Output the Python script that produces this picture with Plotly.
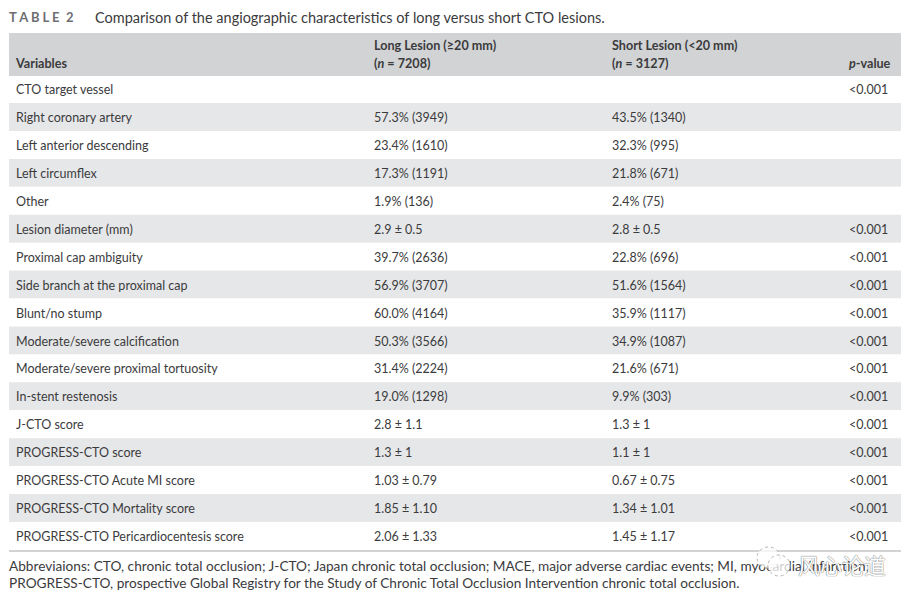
import plotly.graph_objects as go

OFF = 8  # the page body keeps its default 8px margin
W, H = 914 - OFF, 604 - OFF
variables = ["CTO target vessel", "Right coronary artery", "Left anterior descending", "Left circumflex", "Other",
             "Lesion diameter (mm)", "Proximal cap ambiguity", "Side branch at the proximal cap", "Blunt/no stump",
             "Moderate/severe calcification", "Moderate/severe proximal tortuosity", "In-stent restenosis",
             "J-CTO score", "PROGRESS-CTO score", "PROGRESS-CTO Acute MI score", "PROGRESS-CTO Mortality score",
             "PROGRESS-CTO Pericardiocentesis score"]
long_lesion = ["", "57.3% (3949)", "23.4% (1610)", "17.3% (1191)", "1.9% (136)", "2.9 ± 0.5", "39.7% (2636)",
               "56.9% (3707)", "60.0% (4164)", "50.3% (3566)", "31.4% (2224)", "19.0% (1298)", "2.8 ± 1.1",
               "1.3 ± 1", "1.03 ± 0.79", "1.85 ± 1.10", "2.06 ± 1.33"]
short_lesion = ["", "43.5% (1340)", "32.3% (995)", "21.8% (671)", "2.4% (75)", "2.8 ± 0.5", "22.8% (696)",
                "51.6% (1564)", "35.9% (1117)", "34.9% (1087)", "21.6% (671)", "9.9% (303)", "1.3 ± 1",
                "1.1 ± 1", "0.67 ± 0.75", "1.34 ± 1.01", "1.45 ± 1.17"]
p_values = ["&lt;0.001", "", "", "", ""] + ["&lt;0.001"] * 12
header_upper = ["", "<b>Long Lesion (≥20 mm)</b>", "<b>Short Lesion (&lt;20 mm)</b>", ""]
header_lower = ["<b>Variables</b>", "<b>(<i>n</i> = 7208)</b>", "<b>(<i>n</i> = 3127)</b>", "<b><i>p</i>-value</b>"]
title_tag = "<b>T A B L E  2</b>"
title_text = "Comparison of the angiographic characteristics of long versus short CTO lesions."
foot1 = "Abbreviaions: CTO, chronic total occlusion; J-CTO; Japan chronic total occlusion; MACE, major adverse cardiac events; MI, myocardial infarction;"
foot2 = "PROGRESS-CTO, prospective Global Registry for the Study of Chronic Total Occlusion Intervention chronic total occlusion."
mark = "风心论道"

FONT = "Lato, Carlito, sans-serif"
INK = "#3b3b3d"
LEFT, RIGHT = 9, 901
TOP, HEAD_BOTTOM, GRID_TOP, ROW_H = 33, 76, 75.1, 27.93
TEXT_NUDGE = 2
COL_X = [16, 374, 612, 849]
row_y = [GRID_TOP + ROW_H * (i + 0.5) for i in range(len(variables))]
text_y = [y + TEXT_NUDGE for y in row_y]
row_fill = ["#ffffff" if i % 2 == 0 else "#e6e7e8" for i in range(len(variables))]

fig = go.Figure()
fig.add_trace(go.Bar(orientation="h", y=row_y + [(TOP + HEAD_BOTTOM) / 2], x=[RIGHT - LEFT] * (len(variables) + 1),
                     base=LEFT, width=[ROW_H] * len(variables) + [HEAD_BOTTOM - TOP],
                     marker=dict(color=row_fill + ["#d1d3d4"], line_width=0), hoverinfo="skip"))

for col_x, upper, lower, values in zip(COL_X, header_upper, header_lower,
                                       [variables, long_lesion, short_lesion, p_values]):
    fig.add_trace(go.Scatter(x=[col_x] * 2, y=[46.5, 64.5], mode="text", text=[upper, lower],
                             textposition="middle right", hoverinfo="skip",
                             textfont=dict(family=FONT, size=12.6, color=INK)))
    fig.add_trace(go.Scatter(x=[col_x] * len(values), y=text_y, mode="text", text=values,
                             textposition="middle right", hoverinfo="skip",
                             textfont=dict(family=FONT, size=12.5, color=INK)))

fig.add_trace(go.Scatter(x=[LEFT, LEFT], y=[567.5, 585], mode="text", text=[foot1, foot2],
                         textposition="middle right", hoverinfo="skip",
                         textfont=dict(family=FONT, size=13.65, color=INK)))


def note(text, x, y, size=13.6, color=INK, family=FONT, shadow=None):
    font = dict(family=family, size=size, color=color)
    if shadow:
        font["shadow"] = shadow
    fig.add_annotation(text=text, x=x, y=y, xref="x", yref="y", xanchor="left", yanchor="middle",
                       showarrow=False, font=font, borderpad=0, borderwidth=0)


note(title_tag, 9, 17, 13, "#6d6e71")
note(title_text, 95, 17, 14.5)
note(mark, 798, 564, 22, "#ffffff", "Noto Sans CJK SC", "0 0 1px #777777, 0 0 1px #777777")
fig.add_shape(type="line", x0=LEFT, x1=RIGHT, y0=551, y1=551, line=dict(color="#d1d3d4", width=2))
for x0, x1, y0, y1 in [(757, 780, 547, 568), (768, 790, 555, 576)]:
    fig.add_shape(type="circle", x0=x0, x1=x1, y0=y0, y1=y1, fillcolor="rgba(255,255,255,0.75)",
                  line=dict(color="#b5b5b5", width=1, dash="dot"))
fig.update_layout(width=W, height=H, margin=dict(l=0, r=0, t=0, b=0), paper_bgcolor="white", plot_bgcolor="white",
                  autosize=False, showlegend=False, barmode="overlay",
                  xaxis=dict(range=[OFF, OFF + W], visible=False, fixedrange=True),
                  yaxis=dict(range=[OFF + H, OFF], visible=False, fixedrange=True))
fig.write_html("out.html")
